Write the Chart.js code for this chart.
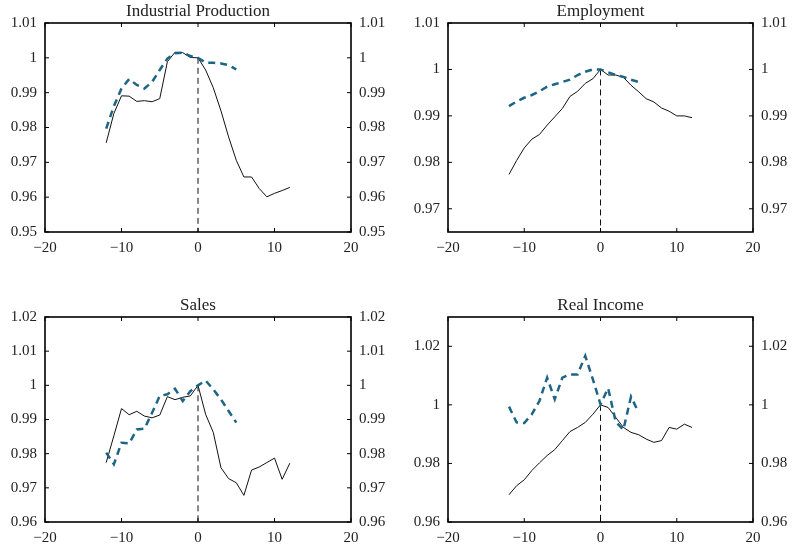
<!DOCTYPE html>
<html>
<head>
<meta charset="utf-8">
<script src="https://cdn.jsdelivr.net/npm/chart.js@4.4.1/dist/chart.umd.min.js"></script>
<style>
  body { margin: 0; background: #fff; width: 793px; height: 546px; position: relative; overflow: hidden; }
  .panel { position: absolute; }
</style>
</head>
<body>
<div class="panel" style="left:0px;top:0px;width:396px;height:270px"><canvas id="c1"></canvas></div>
<div class="panel" style="left:400px;top:0px;width:393px;height:270px"><canvas id="c2"></canvas></div>
<div class="panel" style="left:0px;top:276px;width:396px;height:270px"><canvas id="c3"></canvas></div>
<div class="panel" style="left:400px;top:276px;width:393px;height:270px"><canvas id="c4"></canvas></div>

<script>
// months around the peak
const months = [-12,-11,-10,-9,-8,-7,-6,-5,-4,-3,-2,-1,0,1,2,3,4,5,6,7,8,9,10,11,12];
const monthsModel = [-12,-11,-10,-9,-8,-7,-6,-5,-4,-3,-2,-1,0,1,2,3,4,5];
const xTicks = [-20, -10, 0, 10, 20];

const ipActual = [0.9756,0.9840,0.9891,0.9890,0.9875,0.9877,0.9874,0.9883,0.9989,1.0016,1.0015,1.0001,1.0000,
                  0.9965,0.9914,0.9848,0.9773,0.9706,0.9658,0.9658,0.9625,0.9601,0.9611,0.9619,0.9628];
const ipModel = [0.9797,0.9861,0.9912,0.9939,0.9922,0.9912,0.9931,0.9965,0.9998,1.0013,1.0015,1.0005,1.0000,
                 0.9986,0.9986,0.9984,0.9979,0.9967];

const empActual = [0.9774,0.9804,0.9831,0.9850,0.9860,0.9880,0.9898,0.9916,0.9942,0.9953,0.9970,0.9980,1.0000,
                   0.9988,0.9988,0.9983,0.9966,0.9952,0.9937,0.9930,0.9917,0.9910,0.9900,0.9900,0.9896];
const empModel = [0.9921,0.9931,0.9939,0.9945,0.9953,0.9963,0.9968,0.9973,0.9978,0.9988,0.9995,1.0000,1.0000,
                  0.9994,0.9988,0.9984,0.9978,0.9973];

const salesActual = [0.9774,0.9852,0.9932,0.9914,0.9924,0.9910,0.9905,0.9913,0.9967,0.9958,0.9965,0.9969,1.0000,
                     0.9915,0.9862,0.9759,0.9727,0.9715,0.9678,0.9752,0.9761,0.9774,0.9787,0.9725,0.9772];
const salesModel = [0.9803,0.9769,0.9832,0.9830,0.9871,0.9873,0.9920,0.9969,0.9974,0.9990,0.9954,0.9983,1.0000,
                    1.0014,0.9988,0.9959,0.9925,0.9891];

const incActual = [0.9693,0.9724,0.9744,0.9776,0.9802,0.9827,0.9847,0.9878,0.9909,0.9923,0.9940,0.9968,1.0000,
                   0.9991,0.9957,0.9923,0.9906,0.9898,0.9883,0.9872,0.9878,0.9923,0.9917,0.9934,0.9923];
const incModel = [0.9994,0.9940,0.9938,0.9968,1.0014,1.0093,1.0019,1.0093,1.0104,1.0104,1.0167,1.0087,1.0002,
                  1.0057,0.9942,0.9915,1.0028,0.9974];

const ipTicks = [0.95,0.96,0.97,0.98,0.99,1,1.01];
const empTicks = [0.97,0.98,0.99,1,1.01];
const salesTicks = [0.96,0.97,0.98,0.99,1,1.01,1.02];
const incTicks = [0.96,0.98,1,1.02];

const FONT = { family: "'Liberation Serif', 'DejaVu Serif', serif", size: 15 };
const TEAL = '#1d6584';

function pts(xs, ys) {
    return xs.map((x, i) => ({ x: x, y: ys[i] }));
}

// title + box with inward ticks like matlab
const framePlugin = {
    id: 'frame',
    afterDraw(chart, args, opts) {
        const ctx = chart.ctx;
        const a = chart.chartArea;
        ctx.save();
        ctx.strokeStyle = '#000';
        ctx.lineWidth = 1.6;
        ctx.strokeRect(a.left, a.top, a.right - a.left, a.bottom - a.top);
        ctx.lineWidth = 1;
        const tl = 4;
        chart.scales.x.ticks.forEach(t => {
            const px = chart.scales.x.getPixelForValue(t.value);
            ctx.beginPath();
            ctx.moveTo(px, a.bottom); ctx.lineTo(px, a.bottom - tl);
            ctx.moveTo(px, a.top); ctx.lineTo(px, a.top + tl);
            ctx.stroke();
        });
        chart.scales.y.ticks.forEach(t => {
            const py = chart.scales.y.getPixelForValue(t.value);
            ctx.beginPath();
            ctx.moveTo(a.left, py); ctx.lineTo(a.left + tl, py);
            ctx.moveTo(a.right, py); ctx.lineTo(a.right - tl, py);
            ctx.stroke();
        });
        ctx.fillStyle = '#222';
        ctx.font = "17px 'Liberation Serif', 'DejaVu Serif', serif";
        ctx.textAlign = 'center';
        ctx.textBaseline = 'middle';
        ctx.fillText(opts.text, (a.left + a.right) / 2, a.top - 11);
        ctx.restore();
    }
};

function makePanel(id, title, actual, model, yMin, yMax, yTicks, box) {
    const yAxis = (pos, w) => ({
        type: 'linear',
        position: pos,
        min: yMin,
        max: yMax,
        afterBuildTicks: s => { s.ticks = yTicks.map(v => ({ value: v })); },
        afterFit: s => { s.width = w; },
        grid: { display: false, drawTicks: false },
        border: { display: false },
        ticks: {
            color: '#222',
            font: FONT,
            padding: 8,
            callback: v => String(parseFloat(v.toFixed(3)))
        }
    });

    return new Chart(document.getElementById(id), {
        type: 'line',
        data: {
            datasets: [
                {
                    data: pts(monthsModel, model),
                    borderColor: TEAL,
                    borderWidth: 2.5,
                    borderDash: [7, 5],
                    pointRadius: 0,
                    tension: 0
                },
                {
                    data: pts(months, actual),
                    borderColor: '#111',
                    borderWidth: 1,
                    pointRadius: 0,
                    tension: 0
                },
                {
                    data: [{ x: 0, y: 1 }, { x: 0, y: yMin }],
                    borderColor: '#111',
                    borderWidth: 1,
                    borderDash: [6, 4],
                    pointRadius: 0
                }
            ]
        },
        options: {
            responsive: true,
            maintainAspectRatio: false,
            animation: false,
            layout: { padding: { top: box.top, left: 0, right: 0, bottom: 0 } },
            plugins: {
                legend: { display: false },
                tooltip: { enabled: false },
                frame: { text: title }
            },
            scales: {
                x: {
                    type: 'linear',
                    min: -20,
                    max: 20,
                    afterBuildTicks: s => { s.ticks = xTicks.map(v => ({ value: v })); },
                    afterFit: s => { s.height = box.bottom; },
                    grid: { display: false, drawTicks: false },
                    border: { display: false },
                    ticks: {
                        color: '#222',
                        font: FONT,
                        padding: 7,
                        maxRotation: 0,
                        callback: v => v < 0 ? '\u2212' + Math.abs(v) : String(v)
                    }
                },
                y: yAxis('left', box.left),
                y2: yAxis('right', box.right)
            }
        },
        plugins: [framePlugin]
    });
}

makePanel('c1', 'Industrial Production', ipActual, ipModel, 0.95, 1.01, ipTicks,
          { left: 45, right: 45, top: 23, bottom: 38 });
makePanel('c2', 'Employment', empActual, empModel, 0.965, 1.01, empTicks,
          { left: 48, right: 40, top: 23, bottom: 38 });
makePanel('c3', 'Sales', salesActual, salesModel, 0.96, 1.02, salesTicks,
          { left: 45, right: 45, top: 41, bottom: 24 });
makePanel('c4', 'Real Income', incActual, incModel, 0.96, 1.03, incTicks,
          { left: 48, right: 40, top: 41, bottom: 24 });
</script>
</body>
</html>
